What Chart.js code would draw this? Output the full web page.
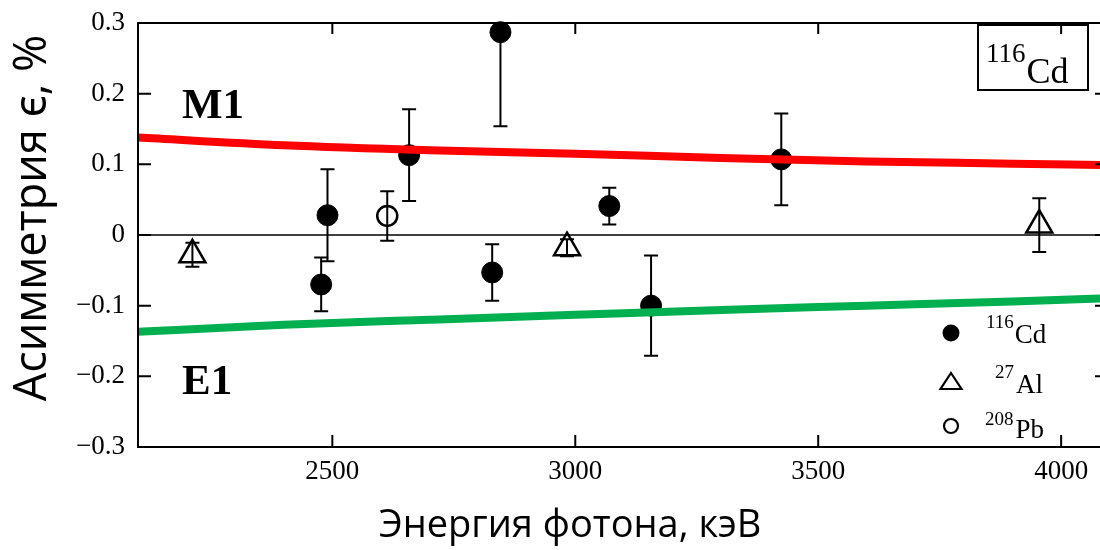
<!DOCTYPE html>
<html>
<head>
<meta charset="utf-8">
<script src="https://cdn.jsdelivr.net/npm/chart.js@4.4.1/dist/chart.umd.min.js"></script>
<style>
  html, body { margin: 0; padding: 0; background: #fff; }
  canvas { display: block; }
</style>
</head>
<body>
<canvas id="c" width="1100" height="550"></canvas>
<script>
// 116Cd: photon energy (keV), asymmetry (%), error
const cdEnergy = [2477, 2490, 2658, 2829, 2846, 3070, 3156, 3424];
const cdAsym   = [-0.070, 0.028, 0.113, -0.053, 0.287, 0.041, -0.100, 0.107];
const cdError  = [0.038, 0.065, 0.065, 0.040, 0.133, 0.026, 0.071, 0.065];

// 27Al
const alEnergy = [2212, 2983, 3955];
const alAsym   = [-0.028, -0.018, 0.014];
const alError  = [0.017, 0.012, 0.038];

// 208Pb
const pbEnergy = [2613];
const pbAsym   = [0.027];
const pbError  = [0.035];

// Model curves: M1 and E1 transitions
const m1Energy = [2100, 2400, 2700, 3000, 3300, 3600, 3900, 4080];
const m1Asym   = [0.138, 0.127, 0.120, 0.115, 0.109, 0.104, 0.101, 0.099];
const e1Energy = [2100, 2400, 2700, 3000, 3300, 3600, 3900, 4080];
const e1Asym   = [-0.137, -0.127, -0.120, -0.113, -0.106, -0.100, -0.094, -0.090];

// Axis ticks
const xTicks = [2500, 3000, 3500, 4000];
const yTicks = [-0.3, -0.2, -0.1, 0, 0.1, 0.2, 0.3];

const pts = (xs, ys) => xs.map((x, i) => ({ x: x, y: ys[i] }));
const SERIF = '"Liberation Serif", "Times New Roman", serif';
const SANS = '"Open Sans", "Noto Sans", sans-serif';

function fmtY(v) {
  if (Math.abs(v) < 1e-9) return '0';
  return (v < 0 ? '\u2212' : '') + Math.abs(v).toFixed(1);
}

// keep the plot area fixed: no extra room for edge labels
function noPad(s) {
  s.paddingTop = 0; s.paddingBottom = 0;
  s.paddingLeft = 0; s.paddingRight = 0;
}

// text with a leading superscript (isotope notation)
function isotope(ctx, mass, sym, x, base, supSize, mainSize, supRise, gap) {
  ctx.font = supSize + 'px ' + SERIF;
  ctx.textAlign = 'left';
  ctx.textBaseline = 'alphabetic';
  ctx.fillText(mass, x, base - supRise);
  const w = ctx.measureText(mass).width;
  ctx.font = mainSize + 'px ' + SERIF;
  ctx.fillText(sym, x + w + gap, base);
}

const decor = {
  id: 'decor',
  beforeDatasetsDraw(chart) {
    const { ctx, chartArea: a, scales: { x, y } } = chart;
    ctx.save();
    // zero line
    const y0 = y.getPixelForValue(0);
    ctx.strokeStyle = '#000';
    ctx.lineWidth = 1.6;
    ctx.beginPath();
    ctx.moveTo(a.left, y0);
    ctx.lineTo(a.right, y0);
    ctx.stroke();

    // error bars
    ctx.beginPath();
    ctx.rect(a.left, a.top, a.right - a.left, a.bottom - a.top);
    ctx.clip();
    ctx.lineWidth = 2;
    chart.data.datasets.forEach(ds => {
      if (!ds.errors) return;
      ds.data.forEach((p, i) => {
        const e = ds.errors[i];
        const px = x.getPixelForValue(p.x);
        const yt = y.getPixelForValue(p.y + e);
        const yb = y.getPixelForValue(p.y - e);
        ctx.beginPath();
        ctx.moveTo(px, yt); ctx.lineTo(px, yb);
        ctx.moveTo(px - 7, yt); ctx.lineTo(px + 7, yt);
        ctx.moveTo(px - 7, yb); ctx.lineTo(px + 7, yb);
        ctx.stroke();
      });
    });
    ctx.restore();
  },
  afterDraw(chart) {
    const { ctx, chartArea: a, scales: { x, y } } = chart;
    ctx.save();
    ctx.strokeStyle = '#000';
    ctx.fillStyle = '#000';

    // frame (left, top, bottom)
    ctx.lineWidth = 2;
    ctx.beginPath();
    ctx.moveTo(a.right, a.top); ctx.lineTo(a.left, a.top);
    ctx.lineTo(a.left, a.bottom); ctx.lineTo(a.right, a.bottom);
    ctx.stroke();

    // inward ticks
    ctx.beginPath();
    xTicks.forEach(v => {
      const px = x.getPixelForValue(v);
      ctx.moveTo(px, a.bottom); ctx.lineTo(px, a.bottom - 12);
      ctx.moveTo(px, a.top); ctx.lineTo(px, a.top + 11);
    });
    yTicks.forEach(v => {
      const py = y.getPixelForValue(v);
      ctx.moveTo(a.left, py); ctx.lineTo(a.left + 13, py);
      ctx.moveTo(a.right, py); ctx.lineTo(a.right - 5, py);
    });
    ctx.stroke();

    // region labels
    ctx.font = 'bold 43px ' + SERIF;
    ctx.textAlign = 'left';
    ctx.textBaseline = 'alphabetic';
    ctx.fillText('M1', 182, 118);
    ctx.fillText('E1', 182, 394);

    // nucleus box
    ctx.lineWidth = 2;
    ctx.strokeRect(978, 25, 110, 65);
    isotope(ctx, '116', 'Cd', 986, 83, 27, 36, 21, 1);

    // key
    ctx.beginPath();
    ctx.arc(951, 333, 8.5, 0, Math.PI * 2);
    ctx.fill();
    ctx.lineWidth = 2.2;
    ctx.beginPath();
    ctx.moveTo(951, 373); ctx.lineTo(961.5, 389); ctx.lineTo(940.5, 389); ctx.closePath();
    ctx.stroke();
    ctx.beginPath();
    ctx.arc(951, 426, 7, 0, Math.PI * 2);
    ctx.stroke();
    isotope(ctx, '116', 'Cd', 986, 343, 19, 27, 15, 1);
    isotope(ctx, '27', 'Al', 995, 393, 19, 27, 15, 2);
    isotope(ctx, '208', 'Pb', 985, 438, 19, 27, 13, 2);

    // axis titles
    ctx.textAlign = 'center';
    ctx.textBaseline = 'alphabetic';
    ctx.font = '38px ' + SANS;
    ctx.fillText('Энергия фотона, кэВ', 570, 537);
    ctx.font = '45px ' + SANS;
    ctx.translate(46, 218);
    ctx.rotate(-Math.PI / 2);
    ctx.fillText('Асимметрия ϵ, %', 0, 0);
    ctx.restore();
  }
};

new Chart(document.getElementById('c'), {
  type: 'scatter',
  data: {
    datasets: [
      {
        label: 'M1', type: 'line', data: pts(m1Energy, m1Asym),
        borderColor: '#ff0000', borderWidth: 8, pointRadius: 0,
        cubicInterpolationMode: 'monotone', fill: false, order: 0
      },
      {
        label: 'E1', type: 'line', data: pts(e1Energy, e1Asym),
        borderColor: '#00b050', borderWidth: 8, pointRadius: 0,
        cubicInterpolationMode: 'monotone', fill: false, order: 0
      },
      {
        label: '116Cd', data: pts(cdEnergy, cdAsym), errors: cdError,
        pointStyle: 'circle', pointRadius: 10.5, backgroundColor: '#000',
        borderColor: '#000', borderWidth: 1, order: 1, clip: 14
      },
      {
        label: '27Al', data: pts(alEnergy, alAsym), errors: alError,
        pointStyle: 'triangle', pointRadius: 15, backgroundColor: 'rgba(0,0,0,0)',
        borderColor: '#000', borderWidth: 2.5, order: 1, clip: 14
      },
      {
        label: '208Pb', data: pts(pbEnergy, pbAsym), errors: pbError,
        pointStyle: 'circle', pointRadius: 10, backgroundColor: 'rgba(0,0,0,0)',
        borderColor: '#000', borderWidth: 2.5, order: 1, clip: 14
      }
    ]
  },
  options: {
    responsive: false,
    animation: false,
    devicePixelRatio: 1,
    layout: { autoPadding: false, padding: { top: 23, right: 0, left: 0, bottom: 0 } },
    plugins: { legend: { display: false }, tooltip: { enabled: false } },
    scales: {
      x: {
        type: 'linear', min: 2100, max: 4080,
        grid: { display: false, drawTicks: false },
        border: { display: false },
        afterBuildTicks: s => { s.ticks = xTicks.map(v => ({ value: v })); },
        afterFit: s => { s.height = 103; noPad(s); },
        ticks: {
          font: { family: SERIF, size: 27 }, color: '#000', padding: 9,
          maxRotation: 0, autoSkip: false, callback: v => String(v)
        }
      },
      y: {
        type: 'linear', min: -0.3, max: 0.3,
        grid: { display: false, drawTicks: false },
        border: { display: false },
        afterBuildTicks: s => { s.ticks = yTicks.map(v => ({ value: v })); },
        afterFit: s => { s.width = 138; noPad(s); },
        ticks: {
          font: { family: SERIF, size: 27 }, color: '#000', padding: 13,
          autoSkip: false, callback: v => fmtY(v)
        }
      }
    }
  },
  plugins: [decor]
});
</script>
</body>
</html>
